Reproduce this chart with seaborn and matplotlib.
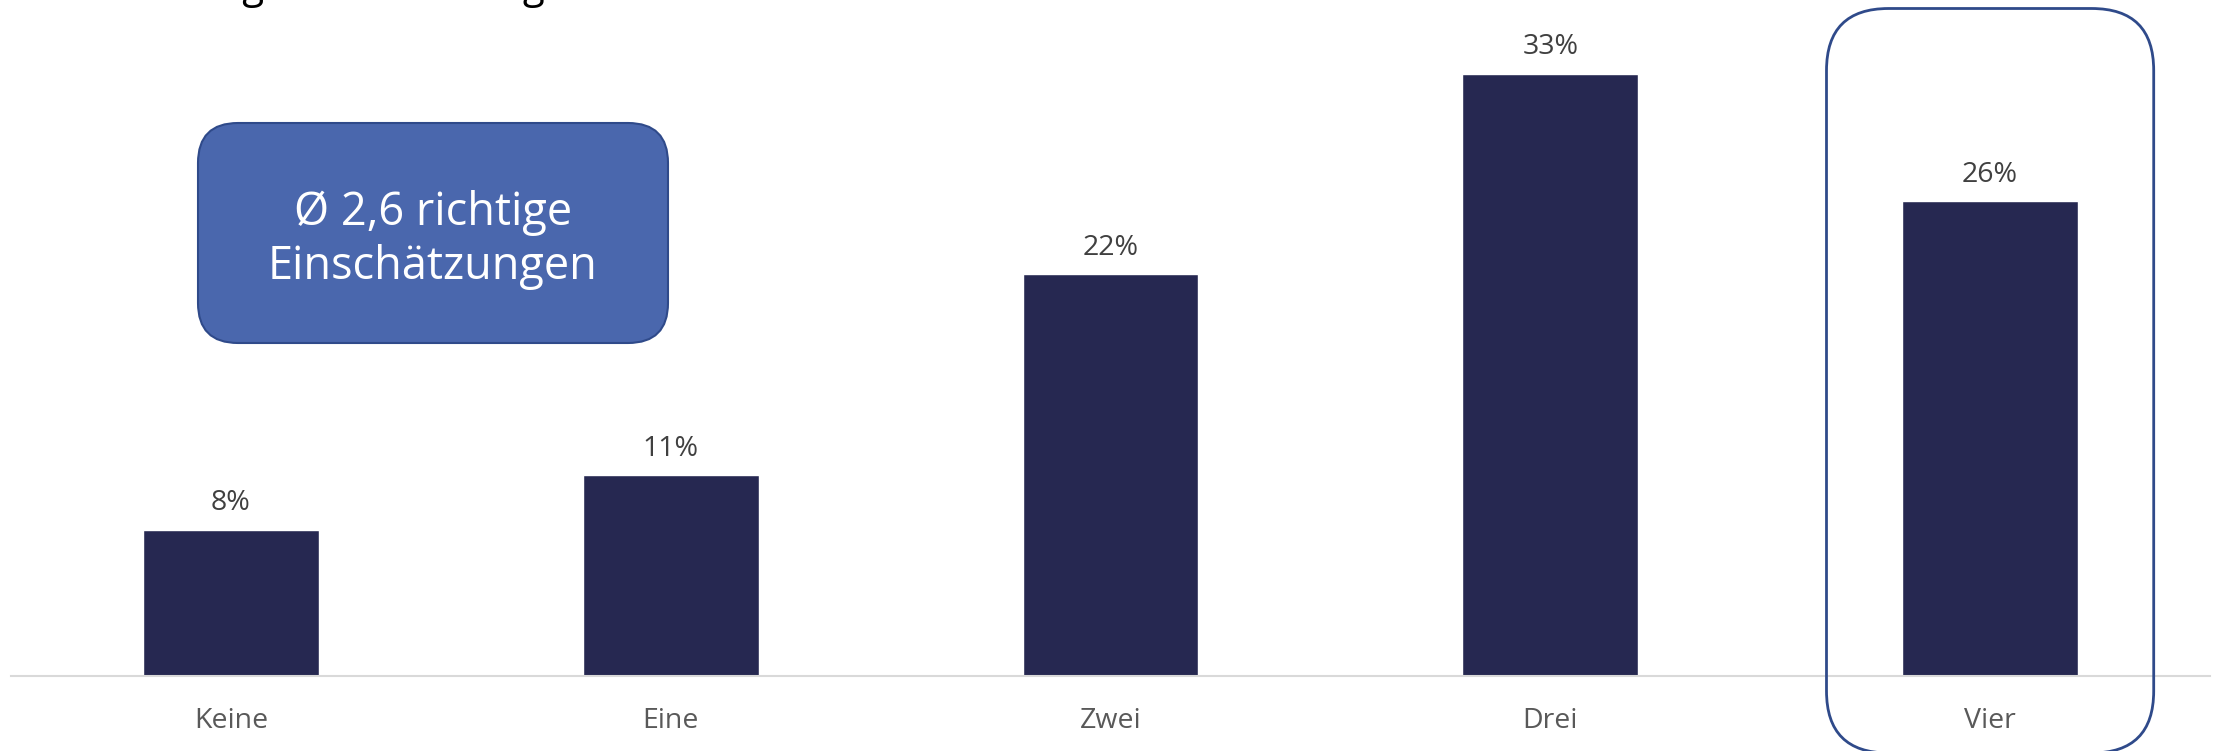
import matplotlib
matplotlib.use("Agg")
import matplotlib.pyplot as plt
from matplotlib.patches import FancyBboxPatch
from matplotlib.transforms import IdentityTransform
import seaborn as sns
import pandas as pd

# data
categories = ["Keine", "Eine", "Zwei", "Drei", "Vier"]
shares = [8, 11, 22, 33, 26]
value_labels = ["8%", "11%", "22%", "33%", "26%"]
title_text = "Anzahl richtige Einschätzungen"
box_text = "Ø 2,6 richtige\nEinschätzungen"
highlight = "Vier"

bar_color = "#262851"

sns.set_theme(style="white")
plt.rcParams["font.family"] = ["Open Sans", "DejaVu Sans"]

W, H, DPI = 2216, 751, 100
fig = plt.figure(figsize=(W / DPI, H / DPI), dpi=DPI)
ax = fig.add_axes([11 / W, 75 / H, (2210 - 11) / W, (H - 75) / H])

df = pd.DataFrame({"cat": categories, "share": shares})
sns.barplot(data=df, x="cat", y="share", color=bar_color, width=0.4,
            saturation=1, ax=ax)

ax.set_xlim(-0.5, 4.5)
ax.set_ylim(0, 37.04)
ax.bar_label(ax.containers[0], labels=value_labels, padding=9,
             fontsize=20.5, color="#404040")

for s in ["top", "right", "left"]:
    ax.spines[s].set_visible(False)
ax.spines["bottom"].set_color("#d9d9d9")
ax.spines["bottom"].set_linewidth(1.5)
ax.set_yticks([])
ax.set_xlabel("")
ax.set_ylabel("")
ax.tick_params(axis="x", length=0, pad=22, labelsize=20.5, labelcolor="#595959")

# cut-off title at the very top (only its lower edge is visible)
fig.text(10 / W, 1.0 + 2 / H, title_text, fontsize=29, color="black",
         ha="left", va="baseline")

# average info box (pixel coordinates)
info = FancyBboxPatch((198, H - 343), 470, 220,
                      boxstyle="round,pad=0,rounding_size=40",
                      transform=IdentityTransform(), facecolor="#4A67AD",
                      edgecolor="#2F4A8A", linewidth=1.5)
fig.add_artist(info)
fig.text(433 / W, 1 - 240 / H, box_text, fontsize=32.5, color="white",
         ha="center", va="center", linespacing=1.22)

# highlight frame around the last category
fig.canvas.draw()
i = categories.index(highlight)
x0, _ = ax.transData.transform((i - 0.372, 0))
x1, _ = ax.transData.transform((i + 0.372, 0))
frame = FancyBboxPatch((x0, -2), x1 - x0, H - 8.5 + 2,
                       boxstyle="round,pad=0,rounding_size=62",
                       transform=IdentityTransform(), facecolor="none",
                       edgecolor="#2F4A8A", linewidth=2, clip_on=False)
fig.add_artist(frame)

fig.savefig("out.png", dpi=DPI)
